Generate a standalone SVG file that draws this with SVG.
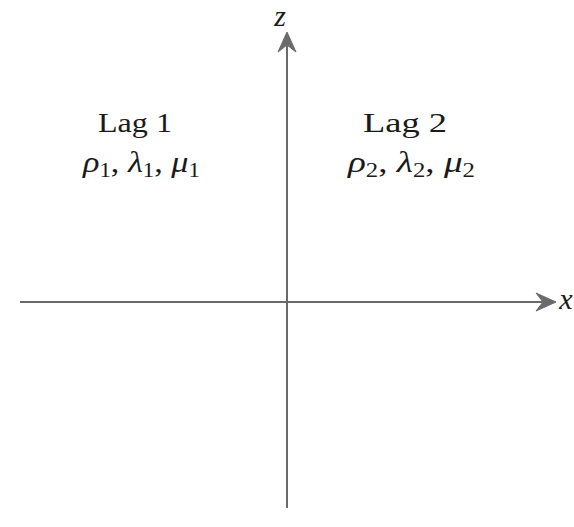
<svg xmlns="http://www.w3.org/2000/svg" width="574" height="527" viewBox="0 0 574 527">
<style>
.ax{stroke:#6a6a6a;stroke-width:2;fill:none}
.ah{fill:#6a6a6a;stroke:#6a6a6a;stroke-width:1}
.t{font-family:"Liberation Serif","DejaVu Serif",serif;font-size:28px;fill:#1a1a1a}
.m{font-family:"Liberation Serif","DejaVu Serif",serif;font-size:30px;font-style:italic;fill:#1a1a1a}
.s{font-size:20px;font-style:normal}
</style>
<rect width="574" height="527" fill="#ffffff"/>
<g id="connectors">
<line class="ax" x1="20" y1="302" x2="552" y2="302"/>
<path class="ah" d="M556,302 L536,293 L543,302 L536,311 Z"/>
<line class="ax" x1="287" y1="508" x2="287" y2="36"/>
<path class="ah" d="M287,32 L278,52 L287,45 L296,52 Z"/>
</g>
<g id="z-label"><text class="m" x="280" y="26" text-anchor="middle" font-size="24">z</text></g>
<g id="x-label"><text class="m" x="566" y="309" text-anchor="middle" font-size="26">x</text></g>
<g id="lag1">
<text class="t" x="98" y="132" textLength="74" lengthAdjust="spacingAndGlyphs">Lag 1</text>
<text class="m" x="83" y="172" textLength="117" lengthAdjust="spacingAndGlyphs">ρ<tspan class="s" dy="5">1</tspan><tspan dy="-5" font-style="normal">, </tspan>λ<tspan class="s" dy="5">1</tspan><tspan dy="-5" font-style="normal">, </tspan>μ<tspan class="s" dy="5">1</tspan></text>
</g>
<g id="lag2">
<text class="t" x="363" y="132" textLength="84" lengthAdjust="spacingAndGlyphs">Lag 2</text>
<text class="m" x="348" y="172" textLength="127" lengthAdjust="spacingAndGlyphs">ρ<tspan class="s" dy="5">2</tspan><tspan dy="-5" font-style="normal">, </tspan>λ<tspan class="s" dy="5">2</tspan><tspan dy="-5" font-style="normal">, </tspan>μ<tspan class="s" dy="5">2</tspan></text>
</g>
</svg>
